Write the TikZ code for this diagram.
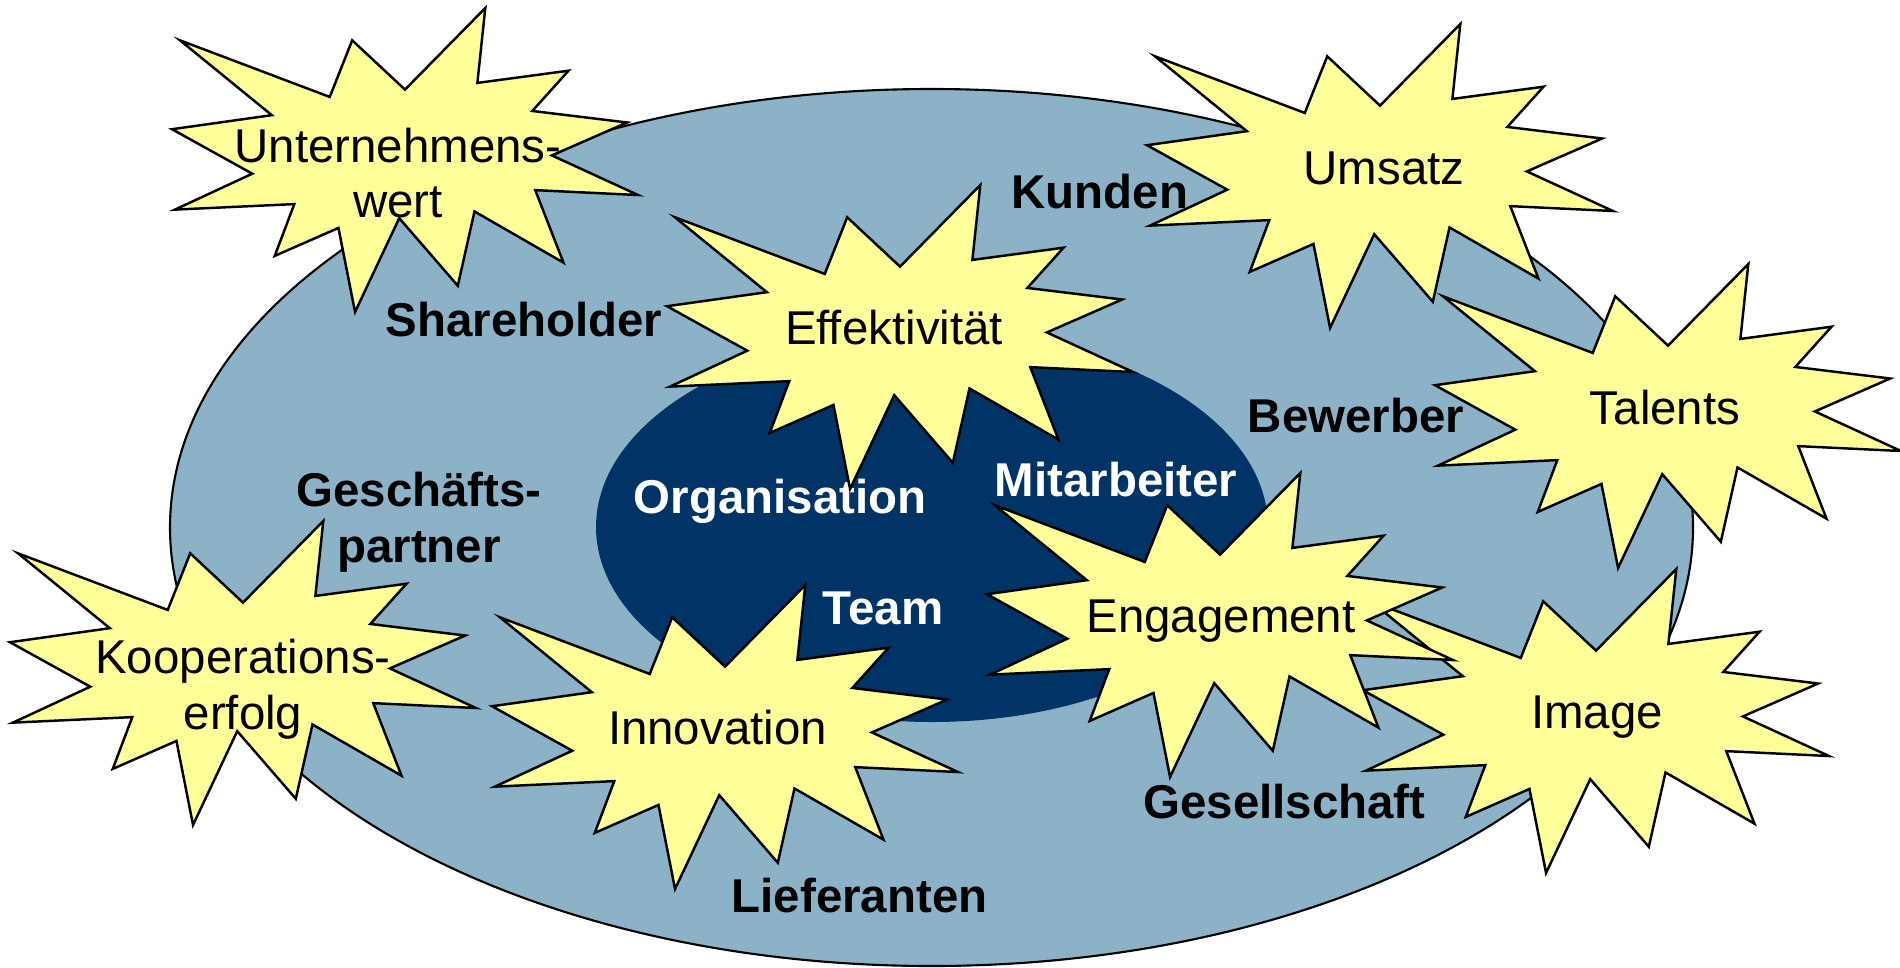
\documentclass[tikz,border=0pt]{standalone}
\usepackage{fontspec}
\setsansfont{Liberation Sans}
\definecolor{stakeblue}{RGB}{140,178,200}
\definecolor{corenavy}{RGB}{0,51,102}
\definecolor{burstyellow}{RGB}{255,255,153}

\begin{document}
\begin{tikzpicture}[burst/.pic={\draw[fill=burstyellow,line width=0.7pt,miter limit=20,xscale=0.0466,yscale=-0.0304]
      (50,26.85) -- (67.23,0) -- (65.53,24.65) -- (85.09,20.63) -- (77.32,33.87) -- (97.67,37.67)
      -- (81.51,48.50) -- (100,61.53) -- (77.95,59.92) -- (84.00,83.77) -- (64.91,66.93) -- (61.33,91.38)
      -- (48.76,69.14) -- (39.28,100) -- (35.72,72.35) -- (22.05,81.56) -- (26.24,64.52) -- (0.63,66.33)
      -- (17.23,54.51) -- (0,39.88) -- (21.42,35.26) -- (1.71,10.63) -- (33.85,29.26) -- (38.67,10.63) -- cycle;},
    word/.style={font=\sffamily\fontsize{13.5}{15.9}\selectfont,inner sep=0pt,align=center},
    group/.style={word,font=\sffamily\bfseries\fontsize{13.5}{15.9}\selectfont},
    core/.style={group,text=white}]
  \useasboundingbox (0,0) rectangle (19,-9.67);

  \draw[fill=stakeblue,line width=0.6pt] (9.315,-5.275) ellipse [x radius=7.615, y radius=4.385];
  \fill[corenavy] (9.32,-5.27) ellipse [x radius=3.36, y radius=1.95];

  \node(kunden)[group,anchor=base] at (11.00,-2.08) {Kunden};
  \node(shareholder)[group,anchor=base] at (5.24,-3.36) {Shareholder};
  \node(bewerber)[group,anchor=base] at (13.56,-4.32) {Bewerber};
  \node(geschaeftspartner)[group] at (4.19,-5.22) {Geschäfts-\\partner};
  \node(gesellschaft)[group,anchor=base] at (12.845,-8.18) {Gesellschaft};
  \node(lieferanten)[group,anchor=base] at (8.595,-9.127) {Lieferanten};

  \node(organisation)[core,anchor=base] at (7.80,-5.13) {Organisation};
  \node(mitarbeiter)[core,anchor=base] at (11.16,-4.96) {Mitarbeiter};
  \node(team)[core,anchor=base] at (8.83,-6.24) {Team};

  \pic (unternehmen) at (1.72,-0.08) {burst};
  \node(unternehmenswert)[word] at (3.98,-1.73) {Unternehmens-\\wert};

  \pic (umsatzburst) at (11.47,-0.24) {burst};
  \node(umsatz)[word,anchor=base] at (13.84,-1.84) {Umsatz};

  \pic (talentsburst) at (14.35,-2.64) {burst};
  \node(talents)[word,anchor=base] at (16.65,-4.24) {Talents};

  \pic (effektburst) at (6.67,-1.85) {burst};
  \node(effektivitaet)[word,anchor=base] at (8.94,-3.44) {Effektivität};

  \pic (koopburst) at (0.10,-5.21) {burst};
  \node(kooperationserfolg)[word] at (2.43,-6.89) {Kooperations-\\erfolg};

  \pic (innoburst) at (4.92,-5.85) {burst};
  \node(innovation)[word,anchor=base] at (7.175,-7.44) {Innovation};

  \pic (imageburst) at (13.63,-5.69) {burst};
  \node(image)[word,anchor=base] at (15.97,-7.28) {Image};

  \pic (engburst) at (9.87,-4.73) {burst};
  \node(engagement)[word,anchor=base] at (12.21,-6.32) {Engagement};
\end{tikzpicture}
\end{document}
